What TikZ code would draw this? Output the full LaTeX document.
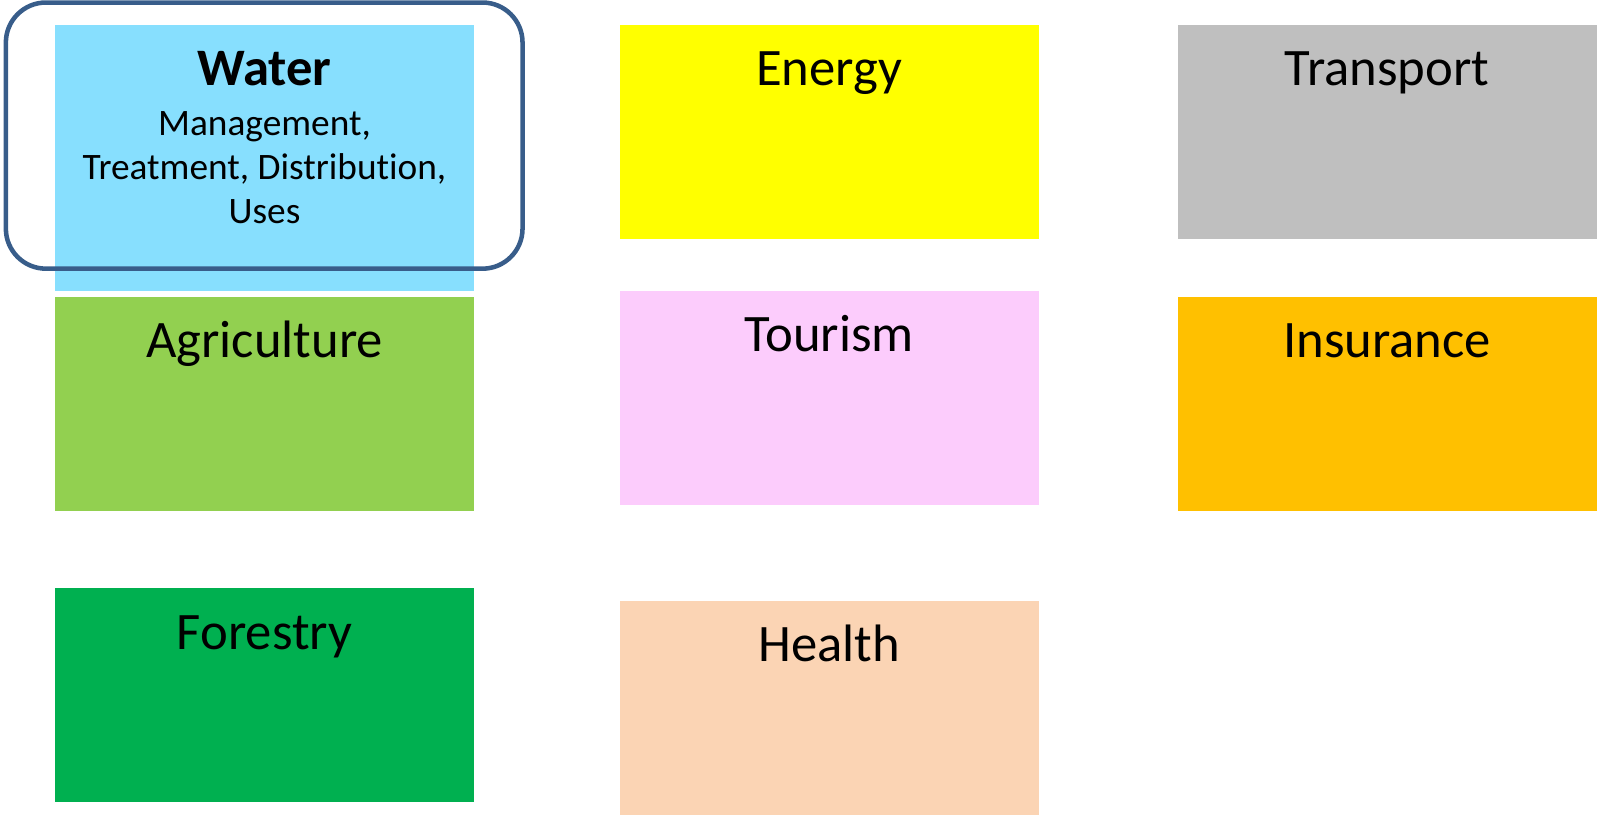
\documentclass[tikz,border=0pt]{standalone}
\usepackage{fontspec}
\setmainfont[Ligatures={NoCommon}]{Carlito}
\definecolor{waterblue}{HTML}{87DFFE}
\definecolor{energyyellow}{HTML}{FFFF00}
\definecolor{agrigreen}{HTML}{92D050}
\definecolor{forestgreen}{HTML}{00B050}
\definecolor{tourpink}{HTML}{FCCCFC}
\definecolor{insorange}{HTML}{FFC000}
\definecolor{healthpeach}{HTML}{FBD4B4}
\definecolor{transgray}{HTML}{BFBFBF}
\definecolor{frameblue}{HTML}{385D8A}
\tikzset{
    sector/.style={rectangle, draw=none, inner sep=0pt, minimum width=314.25pt, minimum height=160.5pt},
    title/.style={anchor=base, inner sep=0pt, text=black, font=\fontsize{39.5}{47}\selectfont},
}
\begin{document}
\begin{tikzpicture}[x=0.75pt, y=-0.75pt]
    \useasboundingbox (0,0) rectangle (1598,814);
    % sector boxes, 1px = 0.75pt
    \node[sector, fill=waterblue, minimum height=199.5pt] (water) at (264.5,158) {};
    \node[sector, fill=energyyellow] (energy) at (829,132) {};
    \node[sector, fill=transgray] (transport) at (1387,132) {};
    \node[sector, fill=agrigreen] (agri) at (264.5,404) {};
    \node[sector, fill=tourpink] (tourism) at (829,398) {};
    \node[sector, fill=insorange] (insurance) at (1387,404) {};
    \node[sector, fill=forestgreen] (forestry) at (264.5,695) {};
    \node[sector, fill=healthpeach] (health) at (829,707.5) {};
    % titles, baseline 60px under the top edge
    \node[title, font=\fontsize{39.5}{47}\selectfont\bfseries] (watert) at (264.5,85) {Water};
    \node[anchor=base, inner sep=0pt, align=center, font=\fontsize{28}{33}\selectfont] (waters) at (264.5,223) {Management,\\Treatment, Distribution,\\Uses}; % base = last line
    \node[title] (energyt) at (829,85) {Energy};
    \node[title] (transportt) at (1387,85) {Transport};
    \node[title] (agrit) at (264.5,357) {Agriculture};
    \node[title] (tourismt) at (829,351) {Tourism};
    \node[title] (insurancet) at (1387,357) {Insurance};
    \node[title] (forestryt) at (264.5,649) {Forestry};
    \node[title] (healtht) at (829,661) {Health};
    % highlight round the water box
    \node[rectangle, rounded corners=30pt, draw=frameblue, line width=3.4pt, minimum width=387.5pt, minimum height=199.6pt, inner sep=0pt] (frame) at (264.2,135.6) {};
\end{tikzpicture}
\end{document}
